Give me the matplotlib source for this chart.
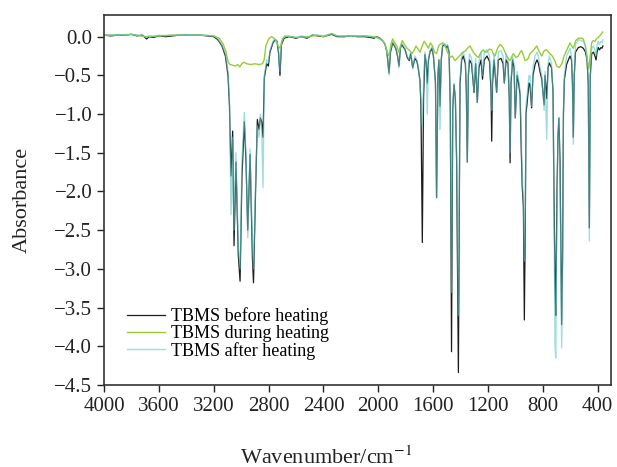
import matplotlib
matplotlib.use('Agg')
import matplotlib.pyplot as plt
import numpy as np

plt.rcParams['font.family'] = ['Liberation Serif', 'DejaVu Serif']
plt.rcParams['mathtext.fontset'] = 'stix'

# shared wavenumber grid for the before / after spectra (cm^-1)
wavenumber = [
    4000, 3950, 3900, 3850, 3800, 3760, 3720, 3690, 3670, 3640, 3600, 3550, 3500, 3450, 3400,
    3350, 3300, 3250, 3200, 3170, 3140, 3115,
    3096, 3085, 3074, 3062, 3052, 3038, 3021, 3008, 2994, 2977, 2965, 2952, 2935, 2918, 2910,
    2895, 2882, 2870, 2860, 2850, 2841, 2831, 2814, 2802, 2790, 2768, 2753, 2739, 2728, 2717,
    2706, 2687,
    2650, 2600, 2560, 2520, 2480, 2440, 2400, 2340, 2300, 2250, 2200, 2150, 2100, 2060, 2030, 2012,
    1988, 1966, 1951, 1937, 1922, 1911, 1895, 1882, 1871, 1860, 1849, 1839, 1829, 1816, 1806,
    1789, 1774, 1764, 1749, 1733, 1718, 1708, 1696, 1689, 1679, 1670, 1660, 1650, 1643, 1634,
    1623, 1609, 1598, 1583, 1575, 1565, 1558, 1550, 1541, 1531, 1517, 1506, 1495, 1484, 1475,
    1466, 1457, 1448, 1438, 1429, 1416, 1404, 1392, 1380, 1365, 1358, 1351, 1343, 1335, 1320,
    1302, 1290, 1278, 1266, 1251, 1240, 1227, 1207, 1189, 1178, 1173, 1167, 1156, 1137, 1125,
    1105, 1090, 1081, 1068, 1054, 1045, 1039, 1032, 1021, 1010, 1001, 988, 977, 966, 957,
    950, 942, 935, 928, 923, 912, 901, 894, 882, 872, 857, 843, 833, 821, 808,
    791, 784, 772, 762, 753, 737, 726, 719, 711, 706, 697, 690, 683, 675, 663,
    656, 650, 643, 627, 614, 602, 591, 584, 578, 571, 562, 541, 522, 505, 489,
    478, 469, 461, 454, 444, 431, 420, 412, 405, 396, 387, 376, 369, 362,
]

before_heating = [
    0.02, 0.01, 0.02, 0.02, 0.03, 0.01, 0.02, -0.03, 0.0, -0.01, 0.01, 0.0, 0.01, 0.02, 0.02,
    0.02, 0.02, 0.01, 0.0, -0.04, -0.12, -0.25,
    -0.5, -0.9, -1.8, -1.22, -2.7, -1.62, -2.82, -3.16, -1.8, -1.1, -1.6, -2.5, -1.52, -2.86, -3.18,
    -2.0, -1.07, -1.2, -1.05, -1.1, -1.3, -0.53, -0.35, -0.38, -0.2, -0.08, -0.04, -0.06, -0.2, -0.5,
    -0.1, -0.02,
    0.0, -0.02, 0.0, -0.02, 0.02, 0.01, 0.0, 0.03, 0.0, 0.0, 0.01, 0.0, 0.0, -0.01, -0.02, 0.0,
    -0.02, -0.06, -0.1, -0.2, -0.47, -0.2, -0.08, -0.12, -0.16, -0.25, -0.38, -0.15, -0.1, -0.14, -0.16,
    -0.27, -0.31, -0.22, -0.4, -0.28, -0.32, -0.42, -0.57, -0.9, -2.66, -0.8, -0.23, -0.35, -0.6, -0.3,
    -0.2, -0.15, -0.25, -0.6, -2.08, -0.5, -0.3, -0.9, -0.3, -0.12, -0.1, -0.14, -0.12, -0.2, -0.9,
    -4.07, -0.92, -0.62, -0.8, -1.6, -4.34, -0.6, -0.3, -0.25, -0.35, -0.7, -1.62, -0.5, -0.3, -0.35,
    -0.72, -0.35, -0.85, -0.4, -0.3, -0.55, -0.3, -0.25, -0.32, -0.7, -1.35, -0.6, -0.3, -0.72, -0.3,
    -0.28, -0.35, -0.6, -0.3, -0.35, -0.8, -1.63, -0.6, -0.3, -0.4, -1.05, -0.5, -0.6, -0.75, -1.5,
    -1.95, -2.2, -3.66, -2.4, -1.0, -0.8, -0.6, -0.62, -0.92, -0.5, -0.36, -0.3, -0.34, -0.45, -0.55,
    -0.88, -0.5, -0.8, -0.4, -0.34, -0.4, -0.7, -2.0, -3.2, -3.6, -2.0, -1.3, -1.05, -1.6, -3.72,
    -2.8, -1.0, -0.55, -0.36, -0.3, -0.25, -0.3, -0.6, -1.3, -0.5, -0.2, -0.14, -0.13, -0.15, -0.2,
    -0.3, -0.6, -2.47, -0.5, -0.22, -0.2, -0.25, -0.3, -0.2, -0.14, -0.17, -0.14, -0.15, -0.12,
]

after_heating = [
    0.02, 0.02, 0.03, 0.02, 0.03, 0.02, 0.02, -0.01, 0.01, 0.0, 0.02, 0.01, 0.02, 0.02, 0.03,
    0.02, 0.02, 0.02, 0.01, -0.03, -0.11, -0.22,
    -0.45, -0.85, -2.3, -1.3, -2.5, -1.5, -2.7, -3.0, -1.6, -0.98, -1.5, -2.6, -1.45, -2.7, -3.0,
    -1.9, -1.15, -1.3, -1.0, -1.2, -1.95, -0.5, -0.3, -0.34, -0.18, -0.06, -0.03, -0.05, -0.18, -0.45,
    -0.08, -0.01,
    0.01, -0.01, 0.01, -0.01, 0.02, 0.02, 0.01, 0.04, 0.01, 0.0, 0.01, 0.0, 0.01, 0.0, -0.01, 0.0,
    -0.02, -0.05, -0.09, -0.2, -0.5, -0.18, -0.07, -0.11, -0.15, -0.24, -0.4, -0.14, -0.09, -0.12, -0.15,
    -0.25, -0.3, -0.2, -0.42, -0.25, -0.3, -0.4, -0.6, -0.8, -1.15, -0.6, -0.2, -0.35, -1.0, -0.3,
    -0.18, -0.13, -0.25, -0.6, -2.08, -0.5, -0.3, -1.2, -0.3, -0.1, -0.09, -0.12, -0.1, -0.2, -0.9,
    -3.3, -0.9, -0.6, -0.8, -1.5, -3.6, -0.55, -0.25, -0.2, -0.3, -0.7, -1.62, -0.45, -0.22, -0.28,
    -0.7, -0.28, -0.85, -0.32, -0.2, -0.5, -0.2, -0.17, -0.25, -0.6, -0.95, -0.5, -0.22, -0.72, -0.2,
    -0.18, -0.25, -0.6, -0.22, -0.3, -0.8, -1.5, -0.55, -0.25, -0.35, -1.05, -0.45, -0.55, -0.7, -1.3,
    -1.85, -2.1, -2.9, -2.2, -0.9, -0.7, -0.5, -0.5, -0.9, -0.4, -0.25, -0.2, -0.25, -0.4, -0.5,
    -0.95, -0.45, -1.33, -0.35, -0.25, -0.35, -0.7, -2.2, -4.0, -4.15, -2.2, -1.3, -1.05, -1.8, -4.02,
    -3.0, -1.0, -0.5, -0.25, -0.2, -0.15, -0.25, -0.65, -1.39, -0.5, -0.1, -0.04, -0.05, -0.06, -0.12,
    -0.25, -0.6, -2.64, -0.5, -0.15, -0.12, -0.18, -0.25, -0.12, -0.06, -0.1, -0.06, -0.08, -0.04,
]

wavenumber_during = [
    4000, 3900, 3800, 3700, 3600, 3500, 3400, 3300, 3200, 3160, 3130, 3110, 3095, 3080, 3060,
    3040, 3025, 3010, 2995, 2980, 2960, 2930, 2900, 2870, 2845, 2832, 2820, 2800, 2780, 2760,
    2745, 2730, 2715, 2700, 2680, 2600, 2500, 2450, 2400, 2340, 2300, 2200, 2100, 2030, 2000,
    1970, 1950, 1935, 1922, 1905, 1895, 1880, 1865, 1850, 1835, 1825, 1810, 1790, 1770, 1755,
    1740, 1725, 1710, 1695, 1680, 1665, 1650, 1635, 1620, 1605, 1590, 1575, 1560, 1550, 1530,
    1513, 1495, 1477, 1460, 1441, 1420, 1404, 1385, 1368, 1350, 1331, 1307, 1290, 1271, 1250,
    1234, 1220, 1210, 1190, 1173, 1160, 1149, 1130, 1112, 1100, 1088, 1064, 1039, 1025, 1015,
    995, 979, 965, 954, 940, 930, 918, 906, 894, 870, 845, 825, 808, 790, 772,
    750, 735, 715, 699, 680, 662, 645, 627, 602, 590, 578, 560, 541, 520, 505,
    490, 475, 465, 455, 444, 432, 420, 410, 396, 380, 364,
]

during_heating = [
    0.02, 0.02, 0.03, 0.0, 0.01, 0.02, 0.02, 0.02, 0.01, -0.02, -0.1, -0.2, -0.33, -0.36, -0.37,
    -0.38, -0.36, -0.39, -0.35, -0.33, -0.35, -0.36, -0.35, -0.36, -0.35, -0.3, -0.12, -0.03, 0.0, -0.02,
    -0.06, -0.12, -0.15, -0.03, 0.01, -0.01, 0.0, 0.02, 0.0, 0.04, 0.01, 0.01, 0.01, 0.0, -0.02,
    -0.05, -0.1, -0.2, -0.25, -0.08, -0.03, -0.08, -0.12, -0.2, -0.1, -0.05, -0.1, -0.15, -0.18, -0.22,
    -0.18, -0.12, -0.16, -0.2, -0.12, -0.06, -0.1, -0.15, -0.08, -0.12, -0.2, -0.22, -0.12, -0.1, -0.08,
    -0.12, -0.2, -0.27, -0.25, -0.31, -0.27, -0.24, -0.2, -0.19, -0.15, -0.12, -0.2, -0.24, -0.27, -0.2,
    -0.17, -0.2, -0.2, -0.16, -0.17, -0.23, -0.25, -0.15, -0.1, -0.12, -0.15, -0.25, -0.31, -0.25, -0.22,
    -0.27, -0.25, -0.2, -0.18, -0.25, -0.31, -0.3, -0.28, -0.22, -0.18, -0.12, -0.2, -0.25, -0.18, -0.17,
    -0.22, -0.24, -0.3, -0.38, -0.4, -0.35, -0.25, -0.18, -0.08, -0.12, -0.15, -0.05, -0.02, -0.02, -0.03,
    -0.12, -0.3, -0.42, -0.25, -0.08, -0.05, -0.06, -0.03, -0.01, 0.02, 0.06,
]

series_labels = ['TBMS before heating', 'TBMS during heating', 'TBMS after heating']
x_ticks = [4000, 3600, 3200, 2800, 2400, 2000, 1600, 1200, 800, 400]
y_ticks = [0.0, -0.5, -1.0, -1.5, -2.0, -2.5, -3.0, -3.5, -4.0, -4.5]

fig = plt.figure(figsize=(6.17, 4.67), dpi=100)
ax = fig.add_axes([0.1686, 0.1756, 0.8217, 0.7923])

ax.plot(wavenumber, before_heating, color='#1c1c1c', lw=0.9, label=series_labels[0])
ax.plot(wavenumber_during, during_heating, color='#99cc33', lw=1.0, label=series_labels[1])
ax.plot(wavenumber, after_heating, color='#5cc8c8', lw=1.0, alpha=0.6, label=series_labels[2])

ax.set_xlim(4000, 303)
ax.set_ylim(-4.5, 0.28)
ax.set_xticks(x_ticks)
ax.set_yticks(y_ticks)
ax.set_yticklabels([f'{v:.1f}'.replace('-', '\u2212') for v in y_ticks])
ax.tick_params(direction='out', length=5, width=1.0, labelsize=15, colors='#222222')
for s in ax.spines.values():
    s.set_linewidth(1.2)
    s.set_color('#333333')

ax.set_xlabel(r'Wavenumber/cm$^{-1}$', fontsize=16, color='#222222')
ax.xaxis.set_label_coords(0.438, -0.165)
ax.set_ylabel('Absorbance', fontsize=16, labelpad=16, color='#222222')

ax.legend(loc='upper left', bbox_to_anchor=(0.02, 0.245), frameon=False, fontsize=13,
          handlelength=2.1, handletextpad=0.35, labelspacing=0.0, borderpad=0.2)

fig.savefig('out.png', dpi=100)
